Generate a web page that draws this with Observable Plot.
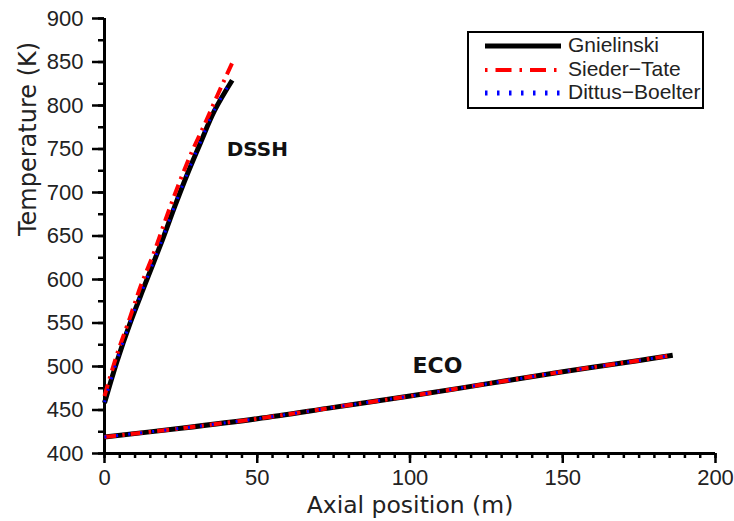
<!DOCTYPE html>
<html>
<head>
<meta charset="utf-8">
<script src="https://cdn.jsdelivr.net/npm/d3@7"></script>
<script src="https://cdn.jsdelivr.net/npm/@observablehq/plot@0.6"></script>
<style>
  body { margin: 0; background: #fff; }
  #wrap { position: relative; width: 734px; height: 521px; }
  #legend { position: absolute; left: 467px; top: 31px; width: 233px; height: 74px;
    border: 2px solid #000; background: #fff; font-family: "Liberation Sans", Arial, sans-serif;
    font-size: 21px; color: #222; }
  #legend .row { position: absolute; left: 0; height: 24px; width: 100%; }
  #legend svg { position: absolute; left: 14px; top: 0; }
  #legend span { position: absolute; left: 99px; top: -1px; white-space: nowrap; }
</style>
</head>
<body>
<div id="wrap"><div id="legend"></div></div>
<script>
// ---- data ----
const seriesNames = ["Gnielinski", "Sieder-Tate", "Dittus-Boelter"];

// DSSH section: axial position (m), temperature (K)
const dsshGnielinskiX = [0, 4, 8.3, 13, 18.9, 23, 27.1, 31.4, 36, 41.8];
const dsshGnielinskiT = [458, 505, 549, 592, 645, 684, 721, 757, 794, 829];
const dsshSiederX = [0, 4, 8.5, 12, 16.1, 20, 24, 28.5, 33.1, 37, 41.8];
const dsshSiederT = [466, 513, 558, 594, 630, 669, 707, 746, 781, 812, 849];
const dsshDittusX = [0, 4, 8.3, 13, 18.9, 23, 27.1, 31.4, 36, 41.8];
const dsshDittusT = [459, 506, 550, 593, 646, 685, 722, 758, 795, 830];

// ECO section
const ecoX = [0, 25, 50, 75, 100, 125, 150, 175, 186];
const ecoGnielinskiT = [419, 429, 440, 453, 466, 480, 494, 507, 513];
const ecoSiederT = [419, 429, 440, 453, 466, 480, 494, 507, 513];
const ecoDittusT = [419, 429, 440, 453, 466, 480, 494, 507, 513];

const xTicks = [0, 50, 100, 150, 200];
const yTicks = [400, 450, 500, 550, 600, 650, 700, 750, 800, 850, 900];
const sectionLabels = [{x: 50, y: 749, text: "DSSH"}, {x: 109, y: 501, text: "ECO"}];

// ---- build table ----
function rows(xs, ts, series, section) {
  return xs.map((x, i) => ({x, t: ts[i], series, section}));
}
const gn = [...rows(dsshGnielinskiX, dsshGnielinskiT, "Gnielinski", "DSSH"), ...rows(ecoX, ecoGnielinskiT, "Gnielinski", "ECO")];
const st = [...rows(dsshSiederX, dsshSiederT, "Sieder-Tate", "DSSH"), ...rows(ecoX, ecoSiederT, "Sieder-Tate", "ECO")];
const db = [...rows(dsshDittusX, dsshDittusT, "Dittus-Boelter", "DSSH"), ...rows(ecoX, ecoDittusT, "Dittus-Boelter", "ECO")];

const styles = {
  "Gnielinski": {stroke: "#000", strokeWidth: 5, dash: null},
  "Sieder-Tate": {stroke: "#ff0000", strokeWidth: 4, dash: "12,6,2.5,6"},
  "Dittus-Boelter": {stroke: "#0000ff", strokeWidth: 3, dash: "2,10"}
};

const tickFont = "Liberation Sans";
const labelFont = "DejaVu Sans";

const chart = Plot.plot({
  width: 734,
  height: 521,
  marginLeft: 104,
  marginRight: 19,
  marginTop: 18,
  marginBottom: 68,
  x: {domain: [0, 200]},
  y: {domain: [400, 900]},
  style: {background: "#fff", color: "#222", fontFamily: "Liberation Sans"},
  marks: [
    // minor ticks
    Plot.axisX({ticks: d3.range(0, 201, 5), tickSize: 5, tickFormat: () => "", strokeWidth: 2.5, stroke: "#000", label: null}),
    Plot.axisY({ticks: d3.range(400, 901, 25), tickSize: 6, tickFormat: () => "", strokeWidth: 2.5, stroke: "#000", label: null}),
    // major ticks
    Plot.axisX({ticks: xTicks, tickSize: 10, tickPadding: 6, fontSize: 22, fontFamily: tickFont, strokeWidth: 2.5, stroke: "#000", fill: "#222", label: null}),
    Plot.axisY({ticks: yTicks, tickSize: 12, tickPadding: 9, fontSize: 22, fontFamily: tickFont, strokeWidth: 2.5, stroke: "#000", fill: "#222", label: null}),
    // axis lines
    Plot.ruleY([400], {stroke: "#000", strokeWidth: 3}),
    Plot.ruleX([0], {stroke: "#000", strokeWidth: 3}),
    // series
    ...[gn, st, db].map(d => {
      const s = styles[d[0].series];
      return Plot.line(d, {x: "x", y: "t", z: "section", stroke: s.stroke, strokeWidth: s.strokeWidth,
        strokeDasharray: s.dash, curve: "catmull-rom", strokeLinecap: "butt"});
    }),
    // section labels
    Plot.text(sectionLabels.filter(d => d.text === "DSSH"), {x: "x", y: "y", text: "text", fontSize: 20, fontWeight: "bold",
      fontFamily: labelFont, fill: "#111"}),
    Plot.text(sectionLabels.filter(d => d.text === "ECO"), {x: "x", y: "y", text: "text", fontSize: 22, fontWeight: "bold",
      fontFamily: labelFont, fill: "#111"}),
    // axis titles
    Plot.text(["Axial position (m)"], {frameAnchor: "bottom", lineAnchor: "middle", dy: 52, fontSize: 23.5, fontFamily: labelFont, fill: "#222"}),
    Plot.text(["Temperature (K)"], {frameAnchor: "left", lineAnchor: "middle", dx: -76, rotate: -90, fontSize: 24, fontFamily: labelFont, fill: "#222"})
  ]
});
document.getElementById("wrap").prepend(chart);

// legend
const legend = document.getElementById("legend");
seriesNames.forEach((name, i) => {
  const s = styles[name];
  const row = document.createElement("div");
  row.className = "row";
  row.style.top = (1 + i * 23.5) + "px";
  row.innerHTML = `<svg width="80" height="24"><line x1="2" x2="78" y1="12" y2="12" stroke="${s.stroke}"
    stroke-width="${name === 'Dittus-Boelter' ? 5 : s.strokeWidth}" ${s.dash ? `stroke-dasharray="${name === 'Sieder-Tate' ? '2.5,8,16,8' : '2.5,9.5'}"` : ""}/></svg><span>${name.replace("-", "\u2212")}</span>`;
  legend.appendChild(row);
});
</script>
</body>
</html>
